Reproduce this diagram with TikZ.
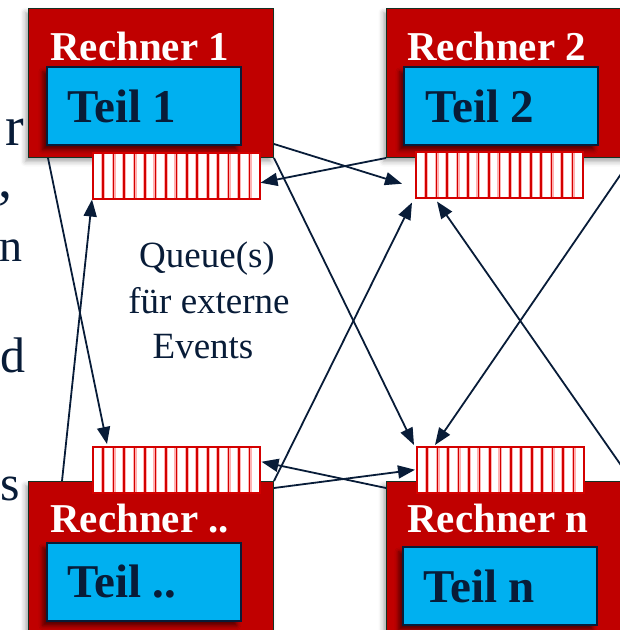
\documentclass[tikz,border=0pt]{standalone}
\usepackage{fontspec}
\setmainfont{Liberation Serif}
\usetikzlibrary{calc,arrows.meta,shadows.blur}

\definecolor{rechnerred}{RGB}{192,0,0}
\definecolor{teilblue}{RGB}{0,176,240}
\definecolor{ink}{RGB}{8,28,56}
\definecolor{rimgreen}{RGB}{20,50,35}
\definecolor{queuered}{RGB}{212,0,0}

\begin{document}
\begin{tikzpicture}[x=1pt,y=-1pt,
  rechner/.style={draw=rimgreen, line width=1pt, fill=rechnerred,
    minimum width=245pt, minimum height=149pt, anchor=north west, inner sep=0pt,
    blur shadow={shadow xshift=-3pt, shadow yshift=-4pt,
      shadow blur radius=5pt, shadow opacity=35}},
  teil/.style={draw=ink, line width=1.5pt, fill=teilblue,
    minimum width=194pt, minimum height=78pt, anchor=north west, inner sep=0pt,
    blur shadow={shadow xshift=-4pt, shadow yshift=-5pt,
      shadow blur radius=4pt, shadow opacity=55}},
  queue/.style={draw=queuered, line width=1.5pt, fill=white,
    minimum width=167pt, minimum height=46pt, anchor=north west, inner sep=0pt,
    path picture={
      \foreach \k in {1,...,15}{
        \draw[red!30, line width=4pt]
          ([xshift=\k*10.45pt]path picture bounding box.north west) --
          ([xshift=\k*10.45pt]path picture bounding box.south west);
        \draw[queuered, line width=1.6pt]
          ([xshift=\k*10.45pt]path picture bounding box.north west) --
          ([xshift=\k*10.45pt]path picture bounding box.south west);
      }}},
  rlabel/.style={text=white, font=\fontsize{41}{41}\selectfont\bfseries,
    inner sep=0pt, anchor=base west},
  tlabel/.style={text=ink, font=\fontsize{47}{47}\selectfont\bfseries,
    inner sep=0pt, anchor=base west},
  note/.style={text=ink, font=\fontsize{37}{37}\selectfont,
    inner sep=0pt, anchor=base},
  frag/.style={text=ink, inner sep=0pt, anchor=base east},
  arr/.style={draw=ink, line width=1.8pt,
    -{Triangle[length=17pt,width=13pt,fill=ink]}}
]
\useasboundingbox (0,0) rectangle (620,630);

% cut-off ends of the neighbouring text lines
\node[frag, font=\fontsize{56}{56}\selectfont] (f1) at (24,145) {r};
\node[frag, font=\fontsize{56}{56}\selectfont] (f2) at (13,197) {,};
\node[frag, font=\fontsize{46}{46}\selectfont] (f3) at (23,261) {n};
\node[frag, font=\fontsize{50}{50}\selectfont] (f4) at (26,372) {d};
\node[frag, font=\fontsize{50}{50}\selectfont] (f5) at (20,500) {s};

% computers
\node[rechner] (r1) at (28,8) {};
\node[rechner] (r2) at (386,8) {};
\node[rechner] (r3) at (28,481) {};
\node[rechner] (r4) at (386,481) {};

\node[rlabel] (l1) at (50,60) {Rechner 1};
\node[rlabel] (l2) at (407,60) {Rechner 2};
\node[rlabel] (l3) at (50,532) {Rechner ..};
\node[rlabel] (l4) at (407,532) {Rechner n};

% model parts
\node[teil] (t1) at (46,66) {};
\node[teil] (t2) at (403,66) {};
\node[teil] (t3) at (46,542) {};
\node[teil] (t4) at (402,546) {};

\node[tlabel] (tl1) at (67,122) {Teil 1};
\node[tlabel] (tl2) at (425,122) {Teil 2};
\node[tlabel] (tl3) at (67,597) {Teil ..};
\node[tlabel] (tl4) at (423,602) {Teil n};

% event queues
\node[queue] (q1) at (92,152) {};
\node[queue] (q2) at (415,151) {};
\node[queue] (q3) at (92,446) {};
\node[queue] (q4) at (416,446) {};

% caption in the middle
\node[note] (n1) at (207,267) {Queue(s)};
\node[note] (n2) at (209,313) {für externe};
\node[note] (n3) at (203,358) {Events};

% external events sent between the computers
\draw[arr] ($(r1.south west)+(20,0)$) -- ($(q3.north west)+(15,-2)$);
\draw[arr] ($(r3.north west)+(34,0)$) -- (q1.south west);
\draw[arr] ($(r1.south east)+(0,-14)$) -- ($(q2.west)+(-13,9)$);
\draw[arr] (r2.south west) -- ($(q1.east)+(0,7)$);
\draw[arr] (r1.south east) -- ($(q4.north west)+(-2,-1)$);
\draw[arr] (r3.north east) -- ($(q2.south west)+(-3,4)$);
\draw[arr] ($(r4.north west)+(0,7)$) -- ($(q3.east)+(1,-8)$);
\draw[arr] ($(r3.north east)+(0,7)$) -- ($(q4.west)+(-1,0)$);
\draw[arr] (r2.south east) -- ($(q4.north west)+(19,-1)$);
\draw[arr] (r4.north east) -- ($(q2.south west)+(22,3)$);
\end{tikzpicture}
\end{document}
